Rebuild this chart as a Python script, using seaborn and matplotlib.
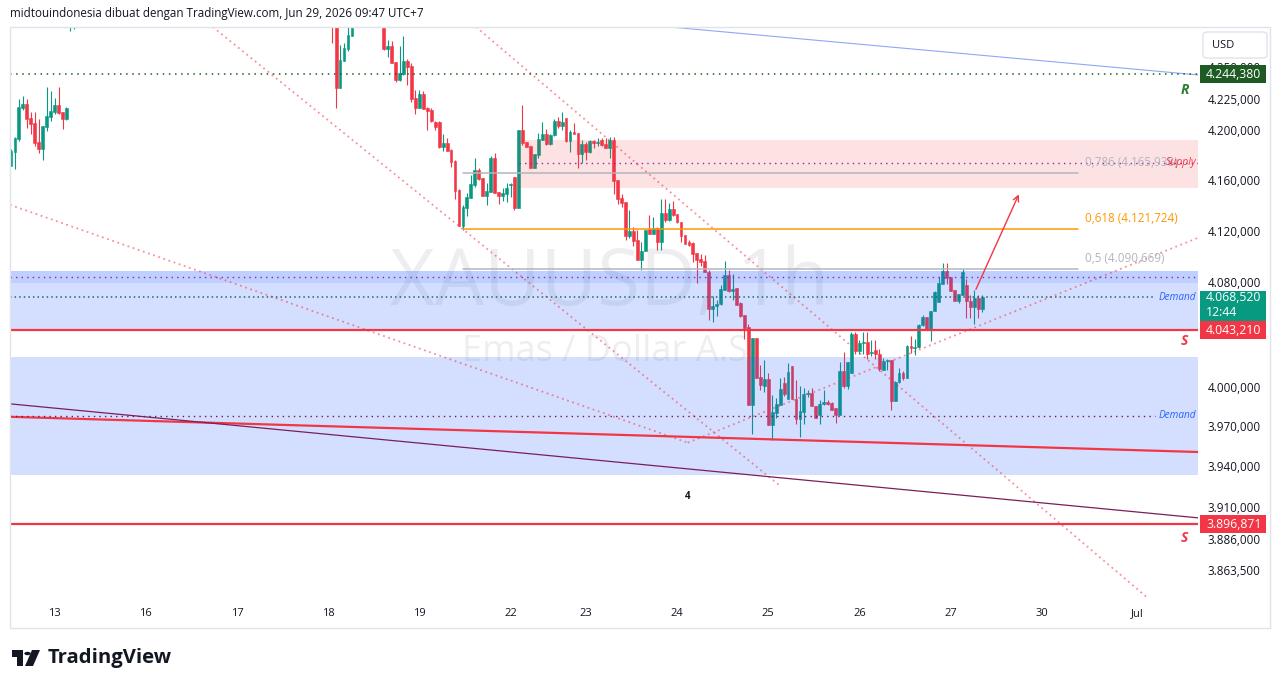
import numpy as np
import pandas as pd
import seaborn as sns
import matplotlib.pyplot as plt
from matplotlib.ticker import FixedLocator, NullLocator
from matplotlib.patches import Rectangle, FancyBboxPatch, Polygon, Circle

# XAUUSD 1h candles, first block (bars 0..16)
open_a = [4171.5, 4182.6, 4192.7, 4217.5, 4220.7, 4209.5, 4205.5, 4190.3, 4184.8, 4202.3,
          4210.3, 4214.3, 4219.9, 4214.3, 4208.7, 4288.0, 4296.0]
high_a = [4184.8, 4194.0, 4224.7, 4227.1, 4224.7, 4214.3, 4214.3, 4208.7, 4203.1, 4234.3,
          4231.1, 4225.5, 4234.3, 4214.3, 4218.3, 4300.0, 4310.0]
low_a = [4171.0, 4169.2, 4191.1, 4215.9, 4201.5, 4196.7, 4187.2, 4181.7, 4176.1, 4199.1,
         4207.1, 4212.7, 4212.7, 4200.7, 4207.9, 4279.5, 4280.8]
close_a = [4183.2, 4193.5, 4218.3, 4220.7, 4208.7, 4204.7, 4189.5, 4184.8, 4203.1, 4211.1,
           4215.1, 4219.9, 4213.5, 4208.7, 4217.5, 4296.0, 4305.0]

# second block starts at bar 81 (None = bar above the visible range)
start_b = 81
open_b = [4298.0, 4288.0, 4233.7, 4255.5, 4265.0, 4275.8, None, None, None, None, None, None, None,
          4295.0, 4265.0, 4267.4, 4254.4, 4240.0, 4244.8, 4255.3, 4251.2, 4225.5, 4217.5,
          4228.7, 4217.5, 4215.9, 4206.3, 4206.3, 4186.4, 4189.5, 4184.0, 4175.3, 4152.4,
          4124.1, 4138.2, 4146.0, 4156.2, 4168.1, 4161.8, 4147.6, 4150.8, 4177.7, 4150.8,
          4147.6, 4149.2, 4156.2, 4162.6, 4138.2, 4199.9, 4190.3, 4187.2, 4169.7, 4180.1,
          4191.9, 4196.7, 4188.8, 4195.9, 4207.1, 4203.1, 4209.5, 4191.1, 4198.3, 4197.5,
          4180.9, 4188.8, 4182.4, 4191.1, 4189.5, 4191.9, 4188.8, 4185.6, 4191.9, 4160.2,
          4146.1, 4143.0, 4116.3, 4120.2, 4113.2, 4097.6, 4104.6, 4121.9, 4117.9, 4122.5,
          4111.6, 4134.2, 4128.8, 4137.4, 4133.5, 4127.2, 4117.1, 4111.6, 4110.8, 4103.1,
          4098.4, 4096.8, 4088.3, 4059.6, 4061.9, 4063.5, 4074.2, 4085.8, 4073.5, 4075.8,
          4064.3, 4055.0, 4045.8, 3986.3, 4037.3, 4007.5, 4000.6, 4006.0, 3971.2, 3979.8,
          3986.3, 4003.0, 3990.4, 4015.9, 3990.4, 3975.3, 3981.0, 3994.6, 3995.4, 3985.5,
          3978.3, 3987.0, 3988.5, 3987.8, 3984.0, 3978.3, 4012.1, 4000.6, 4010.5, 4040.4,
          4027.3, 4033.4, 4034.2, 4025.8, 4028.1, 4025.0, 4012.8, 4019.7, 4020.5, 3988.9,
          4003.7, 4010.5, 4006.7, 4031.2, 4029.7, 4030.5, 4046.9, 4053.5, 4043.5, 4058.1,
          4065.0, 4079.0, 4089.0, 4084.3, 4074.2, 4065.8, 4070.4, 4078.0, 4065.8, 4061.1,
          4068.1, 4059.6]
high_b = [4302.0, 4290.0, 4268.3, 4269.9, 4285.0, 4292.0, None, None, None, None, None, None, None,
          4298.0, 4272.3, 4271.5, 4254.4, 4267.4, 4275.5, 4256.9, 4253.6, 4231.9, 4231.9,
          4231.1, 4218.3, 4217.5, 4207.1, 4207.1, 4196.7, 4193.5, 4184.8, 4176.1, 4153.2,
          4140.6, 4150.0, 4164.2, 4177.7, 4169.7, 4161.8, 4157.8, 4179.3, 4181.7, 4150.8,
          4154.0, 4157.8, 4157.8, 4162.6, 4199.9, 4219.9, 4190.3, 4187.2, 4180.9, 4197.5,
          4206.3, 4200.7, 4196.7, 4208.7, 4210.3, 4214.3, 4209.5, 4199.9, 4205.5, 4197.5,
          4191.9, 4190.3, 4191.9, 4191.9, 4193.5, 4193.5, 4193.5, 4194.3, 4194.3, 4160.2,
          4149.2, 4143.0, 4136.7, 4123.3, 4121.0, 4111.6, 4121.0, 4132.7, 4131.1, 4123.3,
          4145.3, 4145.3, 4142.2, 4143.8, 4133.5, 4127.2, 4117.1, 4113.2, 4111.6, 4103.1,
          4102.3, 4101.4, 4089.8, 4069.7, 4066.6, 4078.1, 4096.8, 4089.8, 4086.6, 4075.8,
          4065.0, 4055.0, 4048.1, 4037.3, 4037.3, 4016.6, 4020.5, 4010.5, 3993.8, 3991.5,
          4006.7, 4007.5, 4018.2, 4015.9, 4005.2, 4000.6, 3999.1, 3997.6, 3999.1, 3985.5,
          3989.6, 3997.6, 3989.6, 3988.5, 3984.0, 4019.0, 4026.6, 4019.0, 4042.0, 4042.0,
          4035.8, 4042.0, 4042.0, 4035.8, 4035.8, 4028.9, 4022.1, 4021.3, 4020.5, 4004.5,
          4014.4, 4012.0, 4032.0, 4038.9, 4036.5, 4047.7, 4055.0, 4053.5, 4058.1, 4073.5,
          4084.3, 4095.2, 4095.2, 4084.3, 4074.2, 4071.2, 4090.6, 4082.7, 4070.4, 4074.2,
          4070.4, 4070.4]
low_b = [4269.6, 4217.7, 4233.7, 4255.5, 4263.4, 4275.8, None, None, None, None, None, None, None,
         4264.2, 4258.5, 4253.6, 4238.3, 4239.1, 4244.0, 4235.9, 4222.3, 4212.7, 4217.5,
         4216.7, 4199.9, 4206.3, 4199.9, 4185.6, 4183.2, 4183.2, 4170.5, 4145.3, 4124.1,
         4121.0, 4131.9, 4146.0, 4154.7, 4160.2, 4147.6, 4140.6, 4150.8, 4150.0, 4141.4,
         4143.8, 4143.0, 4146.8, 4136.7, 4138.2, 4188.0, 4186.4, 4169.7, 4169.7, 4177.7,
         4191.9, 4188.0, 4188.0, 4195.1, 4201.5, 4199.9, 4190.3, 4182.4, 4196.7, 4169.7,
         4173.7, 4176.1, 4181.7, 4185.6, 4187.2, 4187.2, 4185.6, 4177.7, 4149.2, 4141.4,
         4139.0, 4113.2, 4114.7, 4108.5, 4097.6, 4089.8, 4104.6, 4117.9, 4117.9, 4105.4,
         4105.4, 4127.2, 4128.0, 4131.9, 4126.5, 4111.6, 4110.0, 4108.5, 4096.0, 4079.6,
         4092.9, 4088.3, 4051.2, 4049.6, 4054.2, 4062.7, 4074.2, 4072.7, 4066.6, 4062.7,
         4053.4, 4036.5, 3986.3, 3964.4, 4006.7, 3997.6, 3996.1, 3971.2, 3959.9, 3976.0,
         3986.3, 3993.1, 3990.4, 3990.4, 3971.6, 3962.1, 3971.6, 3992.3, 3985.5, 3976.0,
         3971.6, 3986.3, 3986.3, 3982.5, 3972.4, 3978.3, 3999.1, 3998.4, 4010.5, 4025.0,
         4025.0, 4025.0, 4021.2, 4023.5, 4021.2, 4012.1, 4012.8, 4012.8, 3982.5, 3988.9,
         4003.0, 4005.0, 4006.7, 4025.8, 4024.3, 4029.7, 4046.1, 4044.3, 4035.0, 4058.1,
         4065.0, 4079.0, 4079.0, 4073.5, 4065.8, 4064.3, 4070.4, 4052.7, 4052.7, 4048.1,
         4052.7, 4057.4]
close_b = [4288.0, 4233.7, 4256.0, 4265.8, 4276.3, 4290.0, None, None, None, None, None, None, None,
           4265.0, 4267.4, 4253.6, 4240.0, 4245.6, 4255.3, 4250.4, 4224.7, 4217.5, 4228.7,
           4216.7, 4215.1, 4207.1, 4202.3, 4186.4, 4189.5, 4183.2, 4174.5, 4151.6, 4124.1,
           4139.0, 4146.8, 4157.0, 4168.1, 4161.0, 4147.6, 4151.6, 4177.7, 4150.0, 4147.6,
           4150.0, 4154.0, 4157.0, 4138.2, 4199.9, 4189.5, 4186.4, 4169.7, 4180.9, 4192.7,
           4196.7, 4188.8, 4195.9, 4207.1, 4203.1, 4206.3, 4191.1, 4198.3, 4196.7, 4180.9,
           4188.8, 4182.4, 4191.1, 4189.5, 4190.3, 4188.0, 4185.6, 4191.9, 4159.4, 4145.3,
           4142.2, 4116.3, 4120.2, 4112.4, 4097.6, 4104.6, 4121.0, 4117.9, 4122.5, 4111.6,
           4134.2, 4128.8, 4137.4, 4132.7, 4127.2, 4116.3, 4110.0, 4109.3, 4102.3, 4097.6,
           4096.0, 4088.3, 4059.6, 4061.9, 4063.5, 4075.0, 4085.8, 4073.5, 4075.0, 4062.7,
           4054.2, 4045.0, 3986.3, 4037.3, 4006.7, 4001.4, 4006.0, 3971.2, 3981.0, 3987.0,
           3998.4, 3994.6, 4011.3, 3990.4, 3975.3, 3981.8, 3994.6, 3995.4, 3985.5, 3976.0,
           3987.0, 3988.5, 3987.0, 3982.5, 3978.3, 4012.1, 4000.6, 4019.0, 4040.4, 4027.3,
           4033.4, 4034.2, 4025.0, 4026.6, 4025.0, 4013.6, 4019.7, 4020.5, 3988.9, 4003.7,
           4010.5, 4006.7, 4031.2, 4029.7, 4030.5, 4046.9, 4053.5, 4044.3, 4058.1, 4072.7,
           4079.6, 4089.0, 4083.5, 4073.5, 4065.8, 4071.2, 4088.3, 4065.8, 4061.1, 4068.1,
           4059.6, 4068.52]

# date axis: bar index where each day starts
day_pos = [11, 34, 57, 80, 103, 126, 145, 168, 191, 214, 237, 260, 284]
day_labels = ['13', '16', '17', '18', '19', '22', '23', '24', '25', '26', '27', '30', 'Jul']

price_ticks = [4250, 4225, 4200, 4160, 4120, 4080, 4000, 3970, 3940, 3910, 3886, 3863.5]
price_tick_labels = ['4.250,000', '4.225,000', '4.200,000', '4.160,000', '4.120,000', '4.080,000',
                     '4.000,000', '3.970,000', '3.940,000', '3.910,000', '3.886,000', '3.863,500']

# drawings (bar index, price)
resist_level = 4244.38
support_levels = [4043.21, 3896.871]
last_price = 4068.52
fib_prices = [4165.938, 4121.724, 4090.669]
fib_labels = ['0,786 (4.165,938)', '0,618 (4.121,724)', '0,5 (4.090,669)']
fib_span = [114.0, 269.1]
supply_zone = [128.1, 4153.9, 4191.9]
demand_zone_hi = [4043.21, 4089.0]
demand_zone_hi_band = [4079.6, 4089.0]
demand_zone_lo = [3933.6, 4022.8]
channel_lines = [
    ([50.9, 194.0], [4282.8, 3925.4]),
    ([-0.25, 170.7], [4140.6, 3957.7]),
    ([170.7, 299.4], [3957.7, 4114.7]),
    ([117.3, 286.8], [4282.8, 3842.5]),
]
blue_line = ([148.5, 299.4], [4288.0, 4244.0])
red_trend = ([-0.25, 299.4], [3977.2, 3950.7])
purple_trend = ([-0.25, 299.4], [3987.0, 3901.6])
arrow_path = [(243.1, 4072.7), (254.5, 4150.8)]

UP, DOWN = '#089981', '#f23645'
W, H = 1281, 688

sns.set_theme(style='white')
plt.rcParams['font.family'] = ['Open Sans', 'DejaVu Sans']

fig = plt.figure(figsize=(W / 100, H / 100), dpi=100)
fig.patch.set_facecolor('white')


def fx(px):
    return px / W


def fy(py):
    return 1 - py / H


ax = fig.add_axes([fx(10), fy(600), fx(1198) - fx(10), fy(27) - fy(600)])
ax.set_facecolor('white')

# candles
bars_a = pd.DataFrame({'bar': np.arange(len(open_a)), 'open': open_a, 'high': high_a,
                       'low': low_a, 'close': close_a})
bars_b = pd.DataFrame({'bar': np.arange(start_b, start_b + len(open_b)), 'open': open_b,
                       'high': high_b, 'low': low_b, 'close': close_b})
bars = pd.concat([bars_a, bars_b]).dropna().astype(float)
bars['col'] = np.where(bars['close'] >= bars['open'], UP, DOWN)
bars['lo'] = bars[['open', 'close']].min(axis=1)
bars['hi'] = bars[['open', 'close']].max(axis=1)

ax.vlines(bars['bar'], bars['low'], bars['high'], colors=bars['col'], lw=0.8, zorder=3)
ax.bar(bars['bar'], bars['hi'] - bars['lo'], bottom=bars['lo'], width=0.72,
       color=bars['col'], edgecolor=bars['col'], linewidth=0.4, zorder=3)

ax.set_yscale('log')
ax.set_ylim(3841.2, 4282.8)
ax.set_xlim(-0.25, 299.4)

# watermark
ax.text(0.505, 0.55, 'XAUUSD, 1h', transform=ax.transAxes, ha='center', va='center',
        fontsize=56, color='#b2b5be', alpha=0.22, zorder=1)
ax.text(0.505, 0.433, 'Emas / Dollar A.S.', transform=ax.transAxes, ha='center', va='center',
        fontsize=26, color='#b2b5be', alpha=0.22, zorder=1)

# zones
xl, xr = ax.get_xlim()
ax.fill_between([supply_zone[0], xr], supply_zone[1], supply_zone[2], color='#f23645',
                alpha=0.14, lw=0, zorder=4)
ax.fill_between([xl, xr], *demand_zone_hi, color='#2962ff', alpha=0.2, lw=0, zorder=4)
ax.fill_between([xl, xr], *demand_zone_hi_band, color='#2962ff', alpha=0.12, lw=0, zorder=4)
ax.fill_between([xl, xr], *demand_zone_lo, color='#2962ff', alpha=0.2, lw=0, zorder=4)

# trend lines
for xs, ys in channel_lines:
    sns.lineplot(x=xs, y=ys, ax=ax, color='#f23645', lw=1.3, linestyle=(0, (1, 2)),
                 alpha=0.55, sort=False, estimator=None, zorder=5)
sns.lineplot(x=blue_line[0], y=blue_line[1], ax=ax, color='#8fa7f5', lw=0.8, sort=False,
             estimator=None, zorder=5)
sns.lineplot(x=red_trend[0], y=red_trend[1], ax=ax, color='#f23645', lw=1.6, sort=False,
             estimator=None, zorder=5)
sns.lineplot(x=purple_trend[0], y=purple_trend[1], ax=ax, color='#7b1e5a', lw=0.9, sort=False,
             estimator=None, zorder=5)

# horizontal levels
ax.axhline(resist_level, color='#1b5e20', lw=1.1, linestyle=(0, (1, 3)), zorder=5)
for lv in support_levels:
    ax.axhline(lv, color='#f23645', lw=1.6, zorder=5)
ax.plot([xl, 288.5], [last_price, last_price], color='#1b6b63', lw=1.1, linestyle=(0, (1, 2)), zorder=5)
ax.plot([xl, xr], [4084.3, 4084.3], color='#8e24aa', lw=1.0, linestyle=(0, (1, 3)), zorder=5)
ax.plot([xl, 288.5], [3977.9, 3977.9], color='#6a1b4d', lw=1.0, linestyle=(0, (1, 3)), zorder=5)
ax.plot([supply_zone[0], xr], [4173.7, 4173.7], color='#8e24aa', lw=1.0, linestyle=(0, (1, 3)), zorder=5)

fib_cols = ['#b2b5be', '#ff9800', '#b2b5be']
for pr, lab, c in zip(fib_prices, fib_labels, fib_cols):
    ax.plot(fib_span, [pr, pr], color=c, lw=1.1, zorder=5)
    ax.annotate(lab, xy=(fib_span[1] + 1.8, pr), xytext=(0, 2.5), textcoords='offset points',
                ha='left', va='bottom', fontsize=8.4, color=c, zorder=6)

ax.annotate('', xy=arrow_path[1], xytext=arrow_path[0],
            arrowprops=dict(arrowstyle='->', color='#f23645', lw=1.0, mutation_scale=10), zorder=6)

ax.text(299.0, 4173.7, 'Supply', ha='right', va='center', fontsize=7.5, style='italic',
        color='#f23645', zorder=6)
ax.text(299.0, last_price, 'Demand', ha='right', va='center', fontsize=7.2, style='italic',
        color='#2962ff', zorder=6)
ax.text(299.0, 3977.9, 'Demand', ha='right', va='center', fontsize=7.2, style='italic',
        color='#2962ff', zorder=6)
ax.text(296.0, 4232.0, 'R', ha='center', va='center', fontsize=10, style='italic',
        fontweight='bold', color='#2e7d32', zorder=6)
for yy in [4034.6, 3886.8]:
    ax.text(296.0, yy, 'S', ha='center', va='center', fontsize=10, style='italic',
            fontweight='bold', color='#f23645', zorder=6)
ax.text(170.7, 3917.2, '4', ha='center', va='center', fontsize=7, fontweight='bold',
        color='#131722', zorder=6)

# axes styling
for s in ax.spines.values():
    s.set_visible(False)
ax.yaxis.tick_right()
ax.yaxis.set_major_locator(FixedLocator(price_ticks))
ax.yaxis.set_minor_locator(NullLocator())
ax.set_yticklabels(price_tick_labels)
ax.tick_params(axis='y', length=0, pad=7, labelsize=8.4, labelcolor='#131722')
ax.set_xticks(day_pos)
ax.set_xticklabels(day_labels)
ax.tick_params(axis='x', length=0, pad=6, labelsize=8, labelcolor='#131722')
ax.grid(False)

# frame
fig.add_artist(Rectangle((fx(10), fy(628)), fx(1270) - fx(10), fy(27) - fy(628),
                         transform=fig.transFigure, fill=False, ec='#e0e3eb', lw=1))


# price tags on the scale
def tag(price, text, color, above=9, below=9):
    yd = ax.transData.transform((0, price))[1]
    yf = yd / H
    fig.add_artist(Rectangle((fx(1200), yf - below / H), 66 / W, (above + below) / H,
                             transform=fig.transFigure, fc=color, ec='none', zorder=5))
    fig.text(fx(1206), yf, text, ha='left', va='center', fontsize=8.8, color='white', zorder=6)


tag(resist_level, '4.244,380', '#1e5b24')
tag(support_levels[0], '4.043,210', '#f23645')
tag(support_levels[1], '3.896,871', '#f23645')
tag(last_price, '4.068,520', '#089981', above=6, below=24)
fig.text(fx(1206), fy(313), '12:44', ha='left', va='center', fontsize=8.8, color='white', zorder=6)

fig.add_artist(FancyBboxPatch((fx(1203), fy(58)), 64 / W, 26 / H, transform=fig.transFigure,
                              boxstyle='round,pad=0,rounding_size=0.004', fc='white',
                              ec='#e0e3eb', lw=1))
fig.text(fx(1212), fy(45), 'USD', ha='left', va='center', fontsize=8, color='#131722')

# header
fig.text(fx(10), fy(13), 'midtouindonesia dibuat dengan TradingView.com, Jun 29, 2026 09:47 UTC+7',
         ha='left', va='center', fontsize=8.4, color='#131722')

# footer logo
fig.add_artist(Rectangle((fx(12), fy(657)), 11 / W, 7 / H, transform=fig.transFigure,
                         fc='#131722', ec='none'))
fig.add_artist(Rectangle((fx(17), fy(666)), 6 / W, 16 / H, transform=fig.transFigure,
                         fc='#131722', ec='none'))
fig.add_artist(Circle((fx(27.5), fy(653.5)), 3.2 / W, transform=fig.transFigure,
                      fc='#131722', ec='none'))
fig.add_artist(Polygon([(fx(32), fy(650)), (fx(40), fy(650)), (fx(33), fy(666)), (fx(25), fy(666))],
                       closed=True, transform=fig.transFigure, fc='#131722', ec='none'))
fig.text(fx(48), fy(658), 'TradingView', ha='left', va='center', fontsize=14.6, fontweight='bold',
         color='#131722')

fig.savefig('out.png', dpi=100)
